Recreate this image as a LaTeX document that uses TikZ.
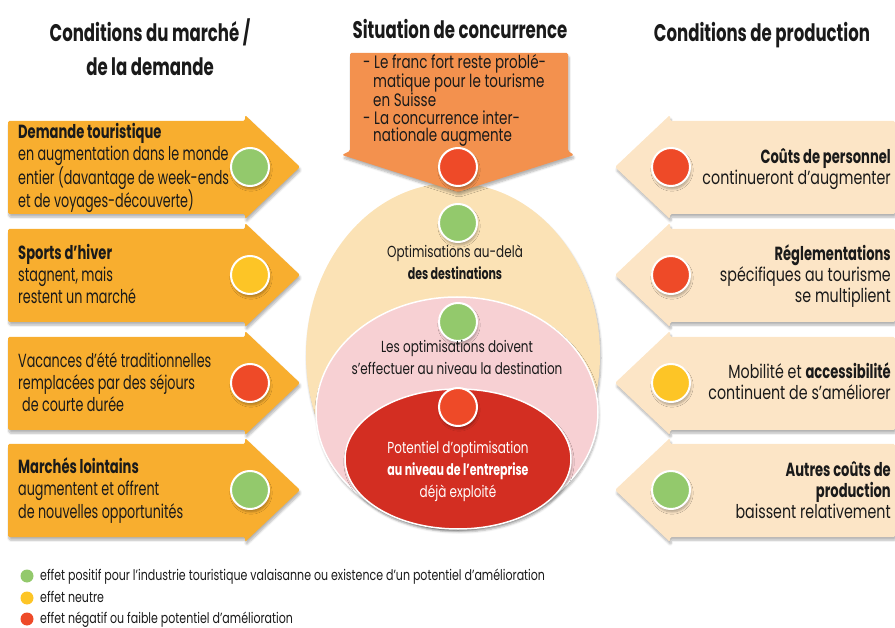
\documentclass[tikz,border=0pt]{standalone}
\usepackage{fontspec}
\setmainfont{Poppins}[FakeStretch=0.75, BoldFeatures={FakeStretch=0.69}]
\newfontfamily\narrowfont{Poppins}[FakeStretch=0.67, BoldFeatures={FakeStretch=0.69}]
\usetikzlibrary{shadows.blur}

\definecolor{arrowL}{HTML}{F8AE2F}
\definecolor{arrowR}{HTML}{FCE5C6}
\definecolor{arrowT}{HTML}{F3914E}
\definecolor{ovalOut}{HTML}{FBE2B5}
\definecolor{ovalMid}{HTML}{F7D0D3}
\definecolor{ovalIn}{HTML}{D32E22}
\definecolor{dotG}{HTML}{93C96C}
\definecolor{dotY}{HTML}{FDC526}
\definecolor{dotR}{HTML}{EE4A28}
\definecolor{ink}{HTML}{1A1A1A}

\tikzset{
  softshadow/.style={blur shadow={shadow xshift=1pt, shadow yshift=-3pt, shadow blur steps=6, shadow opacity=30}},
  dot/.style={circle, draw=white, line width=2pt, minimum size=38pt, inner sep=0pt, softshadow},
  keydot/.style={circle, minimum size=13pt, inner sep=0pt},
  headtext/.style={font=\bfseries\fontsize{24}{34}\selectfont, align=center, inner sep=0pt, text=ink},
  lefttext/.style={anchor=base west, align=left, inner sep=0pt, text=ink, font=\narrowfont\fontsize{19}{22}\selectfont},
  righttext/.style={anchor=base east, align=right, inner sep=0pt, text=ink, font=\fontsize{19}{21}\selectfont},
  centertext/.style={anchor=base, align=center, inner sep=0pt, text=ink, font=\fontsize{16}{22}\selectfont},
  keytext/.style={anchor=base west, inner sep=0pt, text=ink, font=\fontsize{14.7}{22}\selectfont},
}

\begin{document}
\begin{tikzpicture}[x=1pt,y=-1pt]
\useasboundingbox (0,0) rectangle (895,628);

% headings (anchor = baseline of last line)
\node[headtext, anchor=base] (hMarket) at (150,76) {Conditions du marché /\\de la demande};
\node[headtext, anchor=base] (hComp) at (460,39) {Situation de concurrence};
\node[headtext, anchor=base] (hProd) at (762,42) {Conditions de production};

% arrows left and right
\foreach \c in {167,275,383,490} {
  \fill[arrowL, softshadow, rounded corners=1.5pt] (8,\c-46) -- (245,\c-46) -- (245,\c-52) -- (300,\c)
    -- (245,\c+52) -- (245,\c+47) -- (8,\c+47) -- cycle;
  \fill[arrowR, softshadow, rounded corners=1.5pt] (895,\c-46) -- (670,\c-46) -- (670,\c-52) -- (615,\c)
    -- (670,\c+52) -- (670,\c+47) -- (895,\c+47) -- cycle;
}

% centre ovals
\fill[ovalOut, softshadow] (453,355) ellipse [x radius=147, y radius=172];
\filldraw[ovalMid, draw=white, line width=1.5pt, softshadow] (457,412) ellipse [x radius=141, y radius=115];
\filldraw[ovalIn, draw=white, line width=1.5pt, softshadow] (458,459) ellipse [x radius=113, y radius=70];

% top arrow
\fill[arrowT, softshadow, rounded corners=1.5pt] (350,53) -- (568,53) -- (568,151) -- (574,155)
  -- (458,192) -- (342,155) -- (350,151) -- cycle;
\node[anchor=base west, align=left, inner sep=0pt, text=ink, font=\fontsize{18}{17.5}\selectfont] (tComp) at (363,142)
  {- Le franc fort reste problé-\\\hspace*{10pt}matique pour le tourisme\\\hspace*{10pt}en Suisse\\
   - La concurrence inter-\\\hspace*{10pt}nationale augmente};

% dots
\node[dot, fill=dotG] (dL1) at (250,167) {};
\node[dot, fill=dotY] (dL2) at (250,275) {};
\node[dot, fill=dotR] (dL3) at (250,383) {};
\node[dot, fill=dotG] (dL4) at (250,490) {};
\node[dot, fill=dotR] (dR1) at (671,167) {};
\node[dot, fill=dotR] (dR2) at (671,275) {};
\node[dot, fill=dotY] (dR3) at (671,383) {};
\node[dot, fill=dotG] (dR4) at (671,490) {};
\node[dot, fill=dotR] (dC0) at (458,167) {};
\node[dot, fill=dotG] (dC1) at (458,223) {};
\node[dot, fill=dotG] (dC2) at (458,322) {};
\node[dot, fill=dotR] (dC3) at (458,407) {};

% left texts
\node[lefttext] (tL1) at (18,208) {\textbf{Demande touristique}\\en augmentation dans le monde\\entier (davantage de week-ends\\et de voyages-découverte)};
\node[lefttext] (tL2) at (18,304) {\textbf{Sports d’hiver}\\stagnent, mais\\restent un marché};
\node[lefttext] (tL3) at (18,412) {Vacances d’été traditionnelles\\remplacées par des séjours\\\hspace*{4pt}de courte durée};
\node[lefttext] (tL4) at (18,518) {\textbf{Marchés lointains}\\augmentent et offrent\\de nouvelles opportunités};

% right texts
\node[righttext] (tR1) at (891,185) {\textbf{Coûts de personnel}\\continueront d’augmenter};
\node[righttext] (tR2) at (891,303) {\textbf{Réglementations}\\spécifiques au tourisme\\se multiplient};
\node[righttext] (tR3) at (891,400) {Mobilité et \textbf{accessibilité}\\continuent de s’améliorer};
\node[righttext] (tR4) at (891,518) {\textbf{Autres coûts de}\\\textbf{production}\\baissent relativement};

% centre texts
\node[centertext] (tC1) at (455,280) {Optimisations au-delà\\\textbf{des destinations}};
\node[centertext] (tC2) at (457,375) {Les optimisations doivent\\s’effectuer au niveau la destination};
\node[centertext, text=white] (tC3) at (458,497) {Potentiel d’optimisation\\\textbf{au niveau de l’entreprise}\\déjà exploité};

% key
\node[keydot, fill=dotG] (kG) at (27,576) {};
\node[keydot, fill=dotY] (kY) at (27,598) {};
\node[keydot, fill=dotR] (kR) at (27,619) {};
\node[keytext] (kGt) at (40,580) {effet positif pour l’industrie touristique valaisanne ou existence d’un potentiel d’amélioration};
\node[keytext] (kYt) at (40,602) {effet neutre};
\node[keytext] (kRt) at (40,623) {effet négatif ou faible potentiel d’amélioration};
\end{tikzpicture}
\end{document}
